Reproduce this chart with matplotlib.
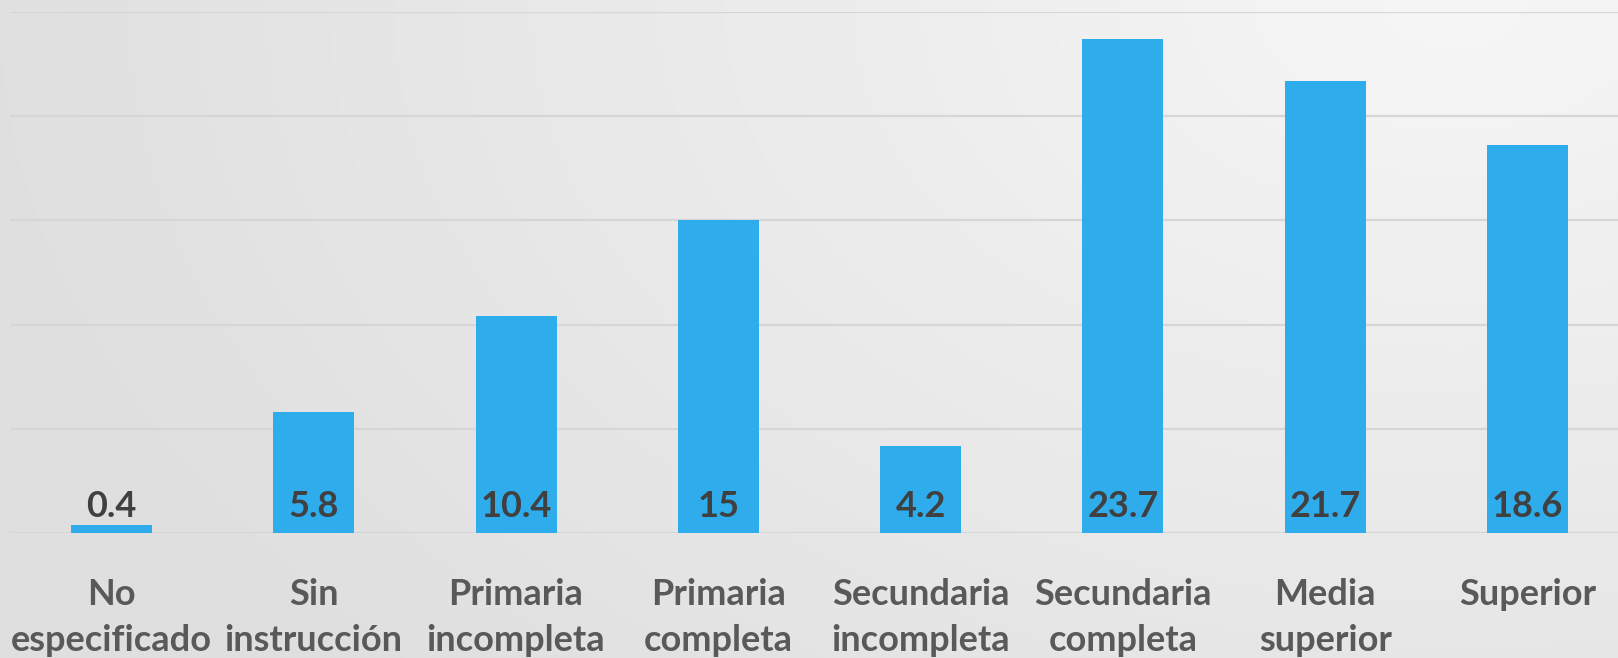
import numpy as np
import matplotlib
matplotlib.use("Agg")
import matplotlib.pyplot as plt

# data
categorias = ["No\nespecificado", "Sin\ninstrucción", "Primaria\nincompleta",
              "Primaria\ncompleta", "Secundaria\nincompleta", "Secundaria\ncompleta",
              "Media\nsuperior", "Superior"]
porcentajes = [0.4, 5.8, 10.4, 15, 4.2, 23.7, 21.7, 18.6]
etiquetas = ["0.4", "5.8", "10.4", "15", "4.2", "23.7", "21.7", "18.6"]

W, H = 1618, 658
fig = plt.figure(figsize=(W / 100, H / 100), dpi=100)

# soft grey background, lighter towards the top right
bg = fig.add_axes([0, 0, 1, 1])
yy, xx = np.mgrid[0:1:200j, 0:1:400j]
dist = np.sqrt(((xx - 0.9) * 1.6) ** 2 + (yy - 0.0) ** 2)
shade = 0.965 - 0.09 * np.clip(dist / 1.5, 0, 1)
bg.imshow(np.dstack([shade] * 3), aspect="auto", extent=[0, 1, 0, 1])
bg.axis("off")

plt.rcParams["font.family"] = ["Lato", "DejaVu Sans"]

# plot area: 8 slots of ~202 px, starts at x=10, right side runs off the canvas
slot = 202.3
left = 10.3
ax_bottom = H - 533.3
ax_top = H - 11.7
ax = fig.add_axes([left / W, ax_bottom / H, (W - left) / W, (ax_top - ax_bottom) / H])
ax.patch.set_alpha(0)

x = np.arange(len(categorias))
ax.bar(x, porcentajes, width=0.4, color="#2FACEB", zorder=3)

ax.set_xlim(-0.5, -0.5 + (W - left) / slot)
ax.set_ylim(0, 25)
ax.set_yticks([0, 5, 10, 15, 20, 25])
ax.grid(axis="y", color="#D6D6D6", linewidth=1.6, zorder=0)
for sp in ax.spines.values():
    sp.set_visible(False)
ax.tick_params(axis="both", length=0)
ax.set_yticklabels([])

ax.set_xticks(x)
ax.set_xticklabels(categorias, fontsize=26, fontweight="bold", color="#595959",
                   linespacing=1.5)
ax.tick_params(axis="x", pad=32)

for xi, lab in zip(x, etiquetas):
    ax.annotate(lab, (xi, 0), xytext=(0, 19.5), textcoords="offset points",
                ha="center", va="center", fontsize=26, fontweight="bold",
                color="#404040", zorder=4)

fig.savefig("out.png", dpi=100)
